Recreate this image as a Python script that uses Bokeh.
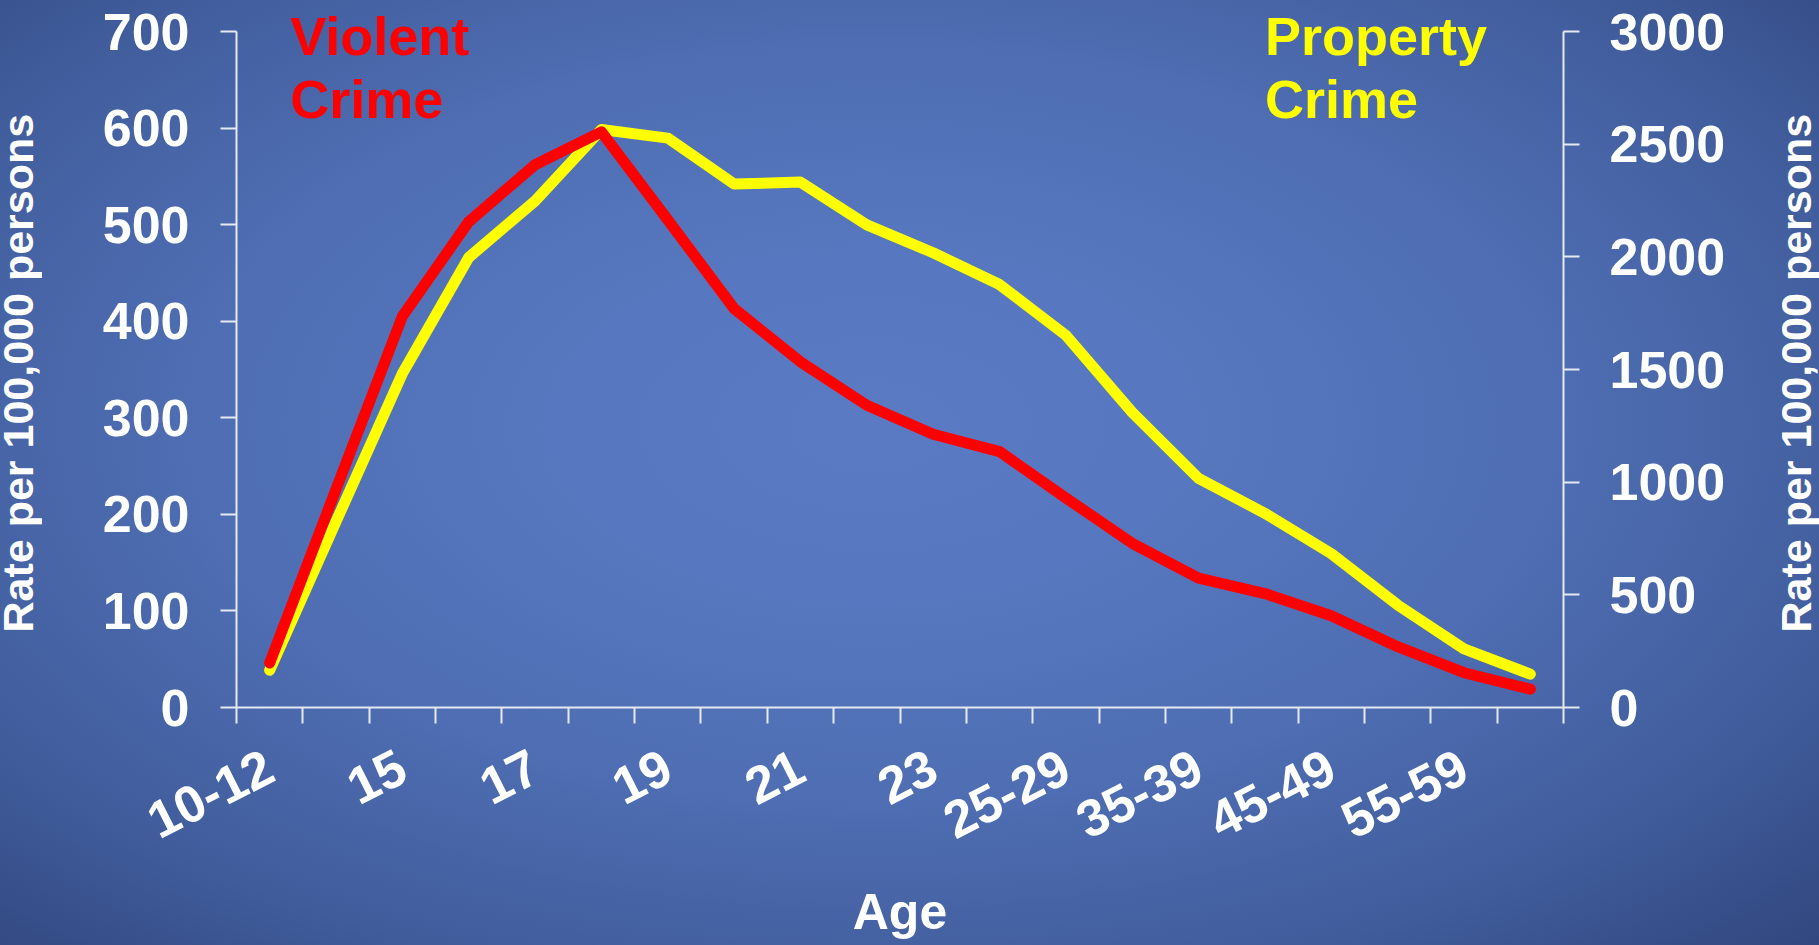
import math
from bokeh.plotting import figure
from bokeh.layouts import row
from bokeh.models import Range1d, LinearAxis, FixedTicker
from bokeh.core.properties import value
from bokeh.embed import file_html
from bokeh.resources import INLINE

# ---- data -------------------------------------------------------------
ages = ["10-12", "13-14", "15", "16", "17", "18", "19", "20", "21", "22",
        "23", "24", "25-29", "30-34", "35-39", "40-44", "45-49", "50-54",
        "55-59", "60-64"]
violent = [46, 226, 405, 503, 562, 596, 505, 413, 358, 313,
           283, 265, 217, 170, 134, 118, 95, 63, 36, 19]
property_crime = [165, 825, 1482, 1997, 2248, 2565, 2527, 2323, 2332, 2142,
                  2018, 1877, 1652, 1310, 1017, 862, 683, 455, 260, 148]
left_ticks = [0, 100, 200, 300, 400, 500, 600, 700]
right_ticks = [0, 500, 1000, 1500, 2000, 2500, 3000]
violent_title = ["Violent", "Crime"]
property_title = ["Property", "Crime"]
y_title = "Rate per 100,000 persons"
x_title = "Age"

FONT = "Liberation Sans"
AXIS_COLOR = "#e6e9f2"
H = 945
LEFT_W, RIGHT_W = 42, 38
MAIN_W = 1819 - LEFT_W - RIGHT_W

x_idx = list(range(len(ages)))
shown = x_idx[::2]

# frame runs from near the top so the series titles are not clipped;
# axis bounds keep the axis lines at 0..max
FRAME_TOP, AXIS_TOP, FRAME_BOTTOM = 5, 31, 707
extend = (FRAME_BOTTOM - FRAME_TOP) / (FRAME_BOTTOM - AXIS_TOP)

p = figure(width=MAIN_W, height=H,
           x_range=Range1d(-0.5, len(ages) - 0.5),
           y_range=Range1d(left_ticks[0], left_ticks[-1] * extend),
           output_backend="svg", toolbar_location=None,
           min_border_left=194, min_border_right=218,
           min_border_top=FRAME_TOP, min_border_bottom=H - FRAME_BOTTOM)
p.extra_y_ranges = {"prop": Range1d(right_ticks[0], right_ticks[-1] * extend)}
p.background_fill_color = None
p.border_fill_color = None
p.outline_line_color = None
p.grid.visible = False


def style_axis(ax, font_size="52px"):
    ax.axis_line_color = AXIS_COLOR
    ax.axis_line_width = 2
    ax.major_tick_line_color = AXIS_COLOR
    ax.major_tick_line_width = 2
    ax.major_tick_out = 16
    ax.major_tick_in = 0
    ax.minor_tick_line_color = None
    ax.major_label_text_font = FONT
    ax.major_label_text_font_style = "bold"
    ax.major_label_text_font_size = font_size
    ax.major_label_text_color = "white"
    ax.axis_label_text_font = FONT
    ax.axis_label_text_font_style = "bold"
    ax.axis_label_text_color = "white"


# x axis: labels on every other category, ticks at category boundaries
xa = p.xaxis[0]
style_axis(xa)
xa.axis_label = x_title
xa.ticker = FixedTicker(ticks=shown, minor_ticks=[i - 0.5 for i in range(len(ages) + 1)])
xa.major_label_overrides = {i: ages[i] for i in shown}
xa.major_tick_line_color = None
xa.minor_tick_line_color = AXIS_COLOR
xa.minor_tick_line_width = 2
xa.minor_tick_out = 16
xa.minor_tick_in = 0
xa.major_label_orientation = 0.47
xa.major_label_standoff = 40
xa.axis_label_text_font_size = "50px"
xa.axis_label_standoff = 25

ya = p.yaxis[0]
style_axis(ya)
ya.ticker = FixedTicker(ticks=left_ticks)
ya.bounds = (left_ticks[0], left_ticks[-1])
ya.major_label_standoff = 31

yr = LinearAxis(y_range_name="prop")
style_axis(yr)
yr.ticker = FixedTicker(ticks=right_ticks)
yr.bounds = (right_ticks[0], right_ticks[-1])
yr.major_label_standoff = 30
p.add_layout(yr, "right")

# lines
p.line(x_idx, property_crime, y_range_name="prop", line_color="#ffff00",
       line_width=11, line_cap="round", line_join="round")
p.line(x_idx, violent, line_color="#ff0000", line_width=11,
       line_cap="round", line_join="round")

# series titles
p.text(x=[0.31, 0.31], y=[695, 630], text=violent_title, text_color="#ff0000",
       text_font=value(FONT), text_font_style="bold", text_font_size="54px",
       text_baseline="alphabetic", text_align="left")
p.text(x=[15.0, 15.0], y=[695, 630], text=property_title, text_color="#ffff00",
       text_font=value(FONT), text_font_style="bold", text_font_size="54px",
       text_baseline="alphabetic", text_align="left")


# vertical axis titles in narrow side panels; their frames line up with the
# main frame (rows align frames), so y is measured in pixels up from page bottom
def title_panel(w, cx, start_y):
    f = figure(width=w, height=H, x_range=Range1d(0, w),
               y_range=Range1d(H - FRAME_BOTTOM, H - FRAME_TOP),
               x_axis_type=None, y_axis_type=None, min_border=0,
               output_backend="svg", toolbar_location=None)
    f.background_fill_color = None
    f.border_fill_color = None
    f.outline_line_color = None
    f.text(x=[cx], y=[start_y], text=[y_title], angle=math.pi / 2,
           text_color="white", text_font=value(FONT), text_font_style="bold",
           text_font_size="43px", text_align="left", text_baseline="middle")
    return f


left_panel = title_panel(LEFT_W, 17, H - 632)
right_panel = title_panel(RIGHT_W, 14, H - 632)

layout = row(left_panel, p, right_panel)
layout.spacing = 0
layout.styles = {"background": "radial-gradient(ellipse farthest-corner at 48% 45%, "
                               "#5a7bc4 0%, #5778c0 22%, #4e6db2 52%, #405c9b 78%, #31477f 100%)"}

open("out.html", "w").write(file_html(layout, INLINE))
